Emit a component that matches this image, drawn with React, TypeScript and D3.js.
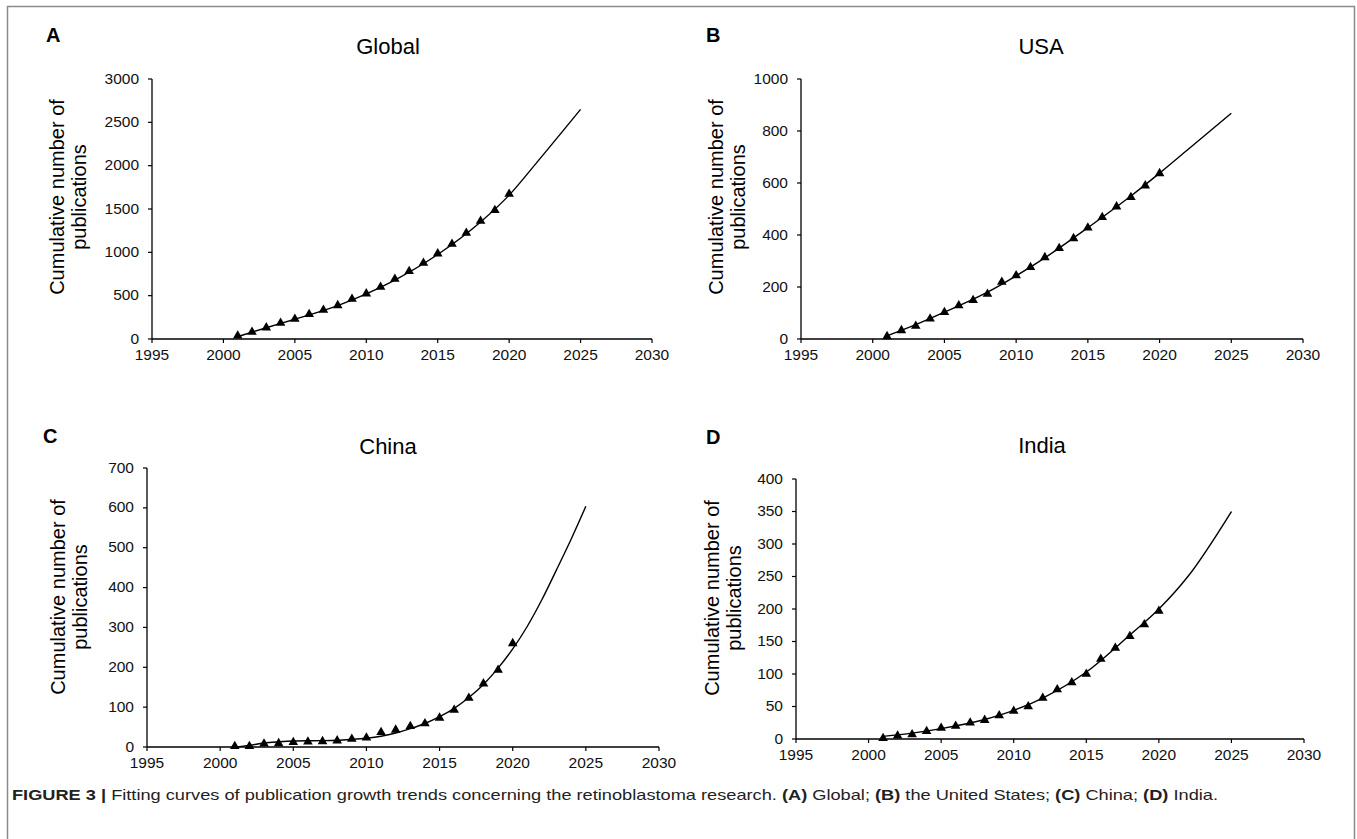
import React from 'react';
import * as d3 from 'd3';

// ---------- DATA ----------
const YEARS = [2001, 2002, 2003, 2004, 2005, 2006, 2007, 2008, 2009, 2010, 2011, 2012, 2013, 2014, 2015, 2016, 2017, 2018, 2019, 2020];

const globalPubs = [38, 81, 131, 185, 231, 285, 335, 388, 462, 523, 600, 692, 781, 877, 985, 1096, 1223, 1362, 1485, 1673];
const usaPubs = [10, 33, 50, 78, 103, 129, 149, 173, 219, 244, 276, 314, 349, 387, 428, 468, 509, 545, 590, 637];
const chinaPubs = [2, 2, 8, 9, 12, 13, 14, 16, 20, 23, 37, 43, 52, 59, 73, 93, 123, 159, 193, 260];
const indiaPubs = [1, 5, 7, 12, 17, 20, 25, 29, 36, 43, 50, 63, 76, 87, 100, 123, 140, 158, 176, 197];

// fitted trend curves
const globalFitYears = [2001, 2003, 2005, 2008, 2010, 2012, 2015, 2018, 2020, 2022, 2025];
const globalFit = [28, 130, 228, 385, 520, 680, 975, 1350, 1660, 2050, 2650];
const usaFitYears = [2001, 2003, 2005, 2008, 2010, 2012, 2015, 2018, 2020, 2022, 2025];
const usaFit = [12, 55, 103, 180, 243, 312, 428, 550, 638, 730, 868];
const chinaFitYears = [2001, 2002, 2003, 2004, 2005, 2007, 2009, 2010, 2011, 2012, 2013, 2014, 2015, 2016, 2017, 2018, 2019, 2020, 2021, 2022, 2023, 2024, 2025];
const chinaFit = [0, 4, 10, 13, 15, 16, 19, 22, 27, 35, 46, 59, 76, 97, 124, 157, 198, 246, 303, 370, 445, 522, 604];
const indiaFitYears = [2001, 2003, 2005, 2008, 2010, 2012, 2015, 2018, 2020, 2022, 2025];
const indiaFit = [4, 9, 16, 30, 44, 63, 103, 160, 200, 250, 350];

const X_TICKS = [1995, 2000, 2005, 2010, 2015, 2020, 2025, 2030];
const globalTicks = [0, 500, 1000, 1500, 2000, 2500, 3000];
const usaTicks = [0, 200, 400, 600, 800, 1000];
const chinaTicks = [0, 100, 200, 300, 400, 500, 600, 700];
const indiaTicks = [0, 50, 100, 150, 200, 250, 300, 350, 400];

const TITLES = ['Global', 'USA', 'China', 'India'];
const LETTERS = ['A', 'B', 'C', 'D'];
const Y_LABEL_1 = 'Cumulative number of';
const Y_LABEL_2 = 'publications';

// ---------- LAYOUT ----------
const layout = [
  { x0: 152, x1: 652, y0: 79, y1: 339, letterX: 46, letterY: 42, titleX: 388, titleY: 54, labX: 57, labY: 197 },
  { x0: 801, x1: 1303, y0: 79, y1: 339, letterX: 706, letterY: 42, titleX: 1041, titleY: 54, labX: 716, labY: 197 },
  { x0: 147, x1: 659, y0: 468, y1: 747, letterX: 43, letterY: 443, titleX: 388, titleY: 454, labX: 58, labY: 597 },
  { x0: 796, x1: 1304, y0: 479, y1: 739, letterX: 706, letterY: 444, titleX: 1042, titleY: 453, labX: 712, labY: 598 },
];

const panels = [
  { data: globalPubs, fitYears: globalFitYears, fit: globalFit, ticks: globalTicks },
  { data: usaPubs, fitYears: usaFitYears, fit: usaFit, ticks: usaTicks },
  { data: chinaPubs, fitYears: chinaFitYears, fit: chinaFit, ticks: chinaTicks },
  { data: indiaPubs, fitYears: indiaFitYears, fit: indiaFit, ticks: indiaTicks },
];

const FONT = 'Liberation Sans, Arial, Helvetica, sans-serif';

function Panel({ idx }: { idx: number }) {
  const p = panels[idx];
  const L = layout[idx];
  const x = d3.scaleLinear().domain([1995, 2030]).range([L.x0, L.x1]);
  const yMax = p.ticks[p.ticks.length - 1];
  const y = d3.scaleLinear().domain([0, yMax]).range([L.y1, L.y0]);
  const line = d3
    .line<number>()
    .x((_, i) => x(p.fitYears[i]))
    .y((d) => y(d))
    .curve(d3.curveMonotoneX);
  const tri = d3.symbol().type(d3.symbolTriangle).size(40)();
  return (
    <g>
      <text x={L.letterX} y={L.letterY} fontFamily={FONT} fontWeight="bold" fontSize={20} fill="#000">
        {LETTERS[idx]}
      </text>
      <text x={L.titleX} y={L.titleY} fontFamily={FONT} fontSize={22} textAnchor="middle" fill="#000">
        {TITLES[idx]}
      </text>
      <g transform={`translate(${L.labX},${L.labY}) rotate(-90)`}>
        <text x={0} y={0} fontFamily={FONT} fontSize={20} textAnchor="middle" dominantBaseline="central" fill="#000">
          {Y_LABEL_1}
        </text>
        <text x={0} y={22} fontFamily={FONT} fontSize={20} textAnchor="middle" dominantBaseline="central" fill="#000">
          {Y_LABEL_2}
        </text>
      </g>
      {/* y axis */}
      <line x1={L.x0} x2={L.x0} y1={y(yMax)} y2={y(0)} stroke="#000" strokeWidth={1.3} />
      {p.ticks.map((t) => (
        <g key={'y' + t}>
          <line x1={L.x0 - 4} x2={L.x0} y1={y(t)} y2={y(t)} stroke="#000" strokeWidth={1.2} />
          <text x={L.x0 - 13} y={y(t) - 1} fontFamily={FONT} fontSize={15.5} textAnchor="end" dominantBaseline="central" fill="#111">
            {t}
          </text>
        </g>
      ))}
      {/* x axis */}
      <line x1={x(1995)} x2={x(2030)} y1={L.y1} y2={L.y1} stroke="#000" strokeWidth={1.3} />
      {X_TICKS.map((t) => (
        <g key={'x' + t}>
          <line x1={x(t)} x2={x(t)} y1={L.y1} y2={L.y1 + 4} stroke="#000" strokeWidth={1.2} />
          <text x={x(t)} y={L.y1 + 15} fontFamily={FONT} fontSize={15.5} textAnchor="middle" dominantBaseline="central" fill="#111">
            {t}
          </text>
        </g>
      ))}
      <path d={line(p.fit) || ''} fill="none" stroke="#000" strokeWidth={1.4} />
      {p.data.map((v, i) => (
        <path key={i} d={tri || ''} transform={`translate(${x(YEARS[i])},${y(v)})`} fill="#000" />
      ))}
    </g>
  );
}

export default function App() {
  return (
    <div style={{ position: 'absolute', left: 0, top: 0 }}>
      <svg width={1357} height={839} style={{ display: 'block', background: '#fff' }}>
        <rect x={0} y={0} width={1357} height={839} fill="#fff" />
        <path d="M7.5,839 L7.5,6.5 L1354.5,6.5 L1354.5,839" fill="none" stroke="#8a8a8a" strokeWidth={1.5} />
        {[0, 1, 2, 3].map((i) => (
          <Panel key={i} idx={i} />
        ))}
        <text x={12} y={800} fontFamily={FONT} fontSize={15} fill="#222" textLength={1206} lengthAdjust="spacingAndGlyphs">
          <tspan fontWeight="bold">FIGURE 3 |</tspan>
          <tspan> Fitting curves of publication growth trends concerning the retinoblastoma research. </tspan>
          <tspan fontWeight="bold">(A)</tspan>
          <tspan> Global; </tspan>
          <tspan fontWeight="bold">(B)</tspan>
          <tspan> the United States; </tspan>
          <tspan fontWeight="bold">(C)</tspan>
          <tspan> China; </tspan>
          <tspan fontWeight="bold">(D)</tspan>
          <tspan> India.</tspan>
        </text>
      </svg>
    </div>
  );
}
